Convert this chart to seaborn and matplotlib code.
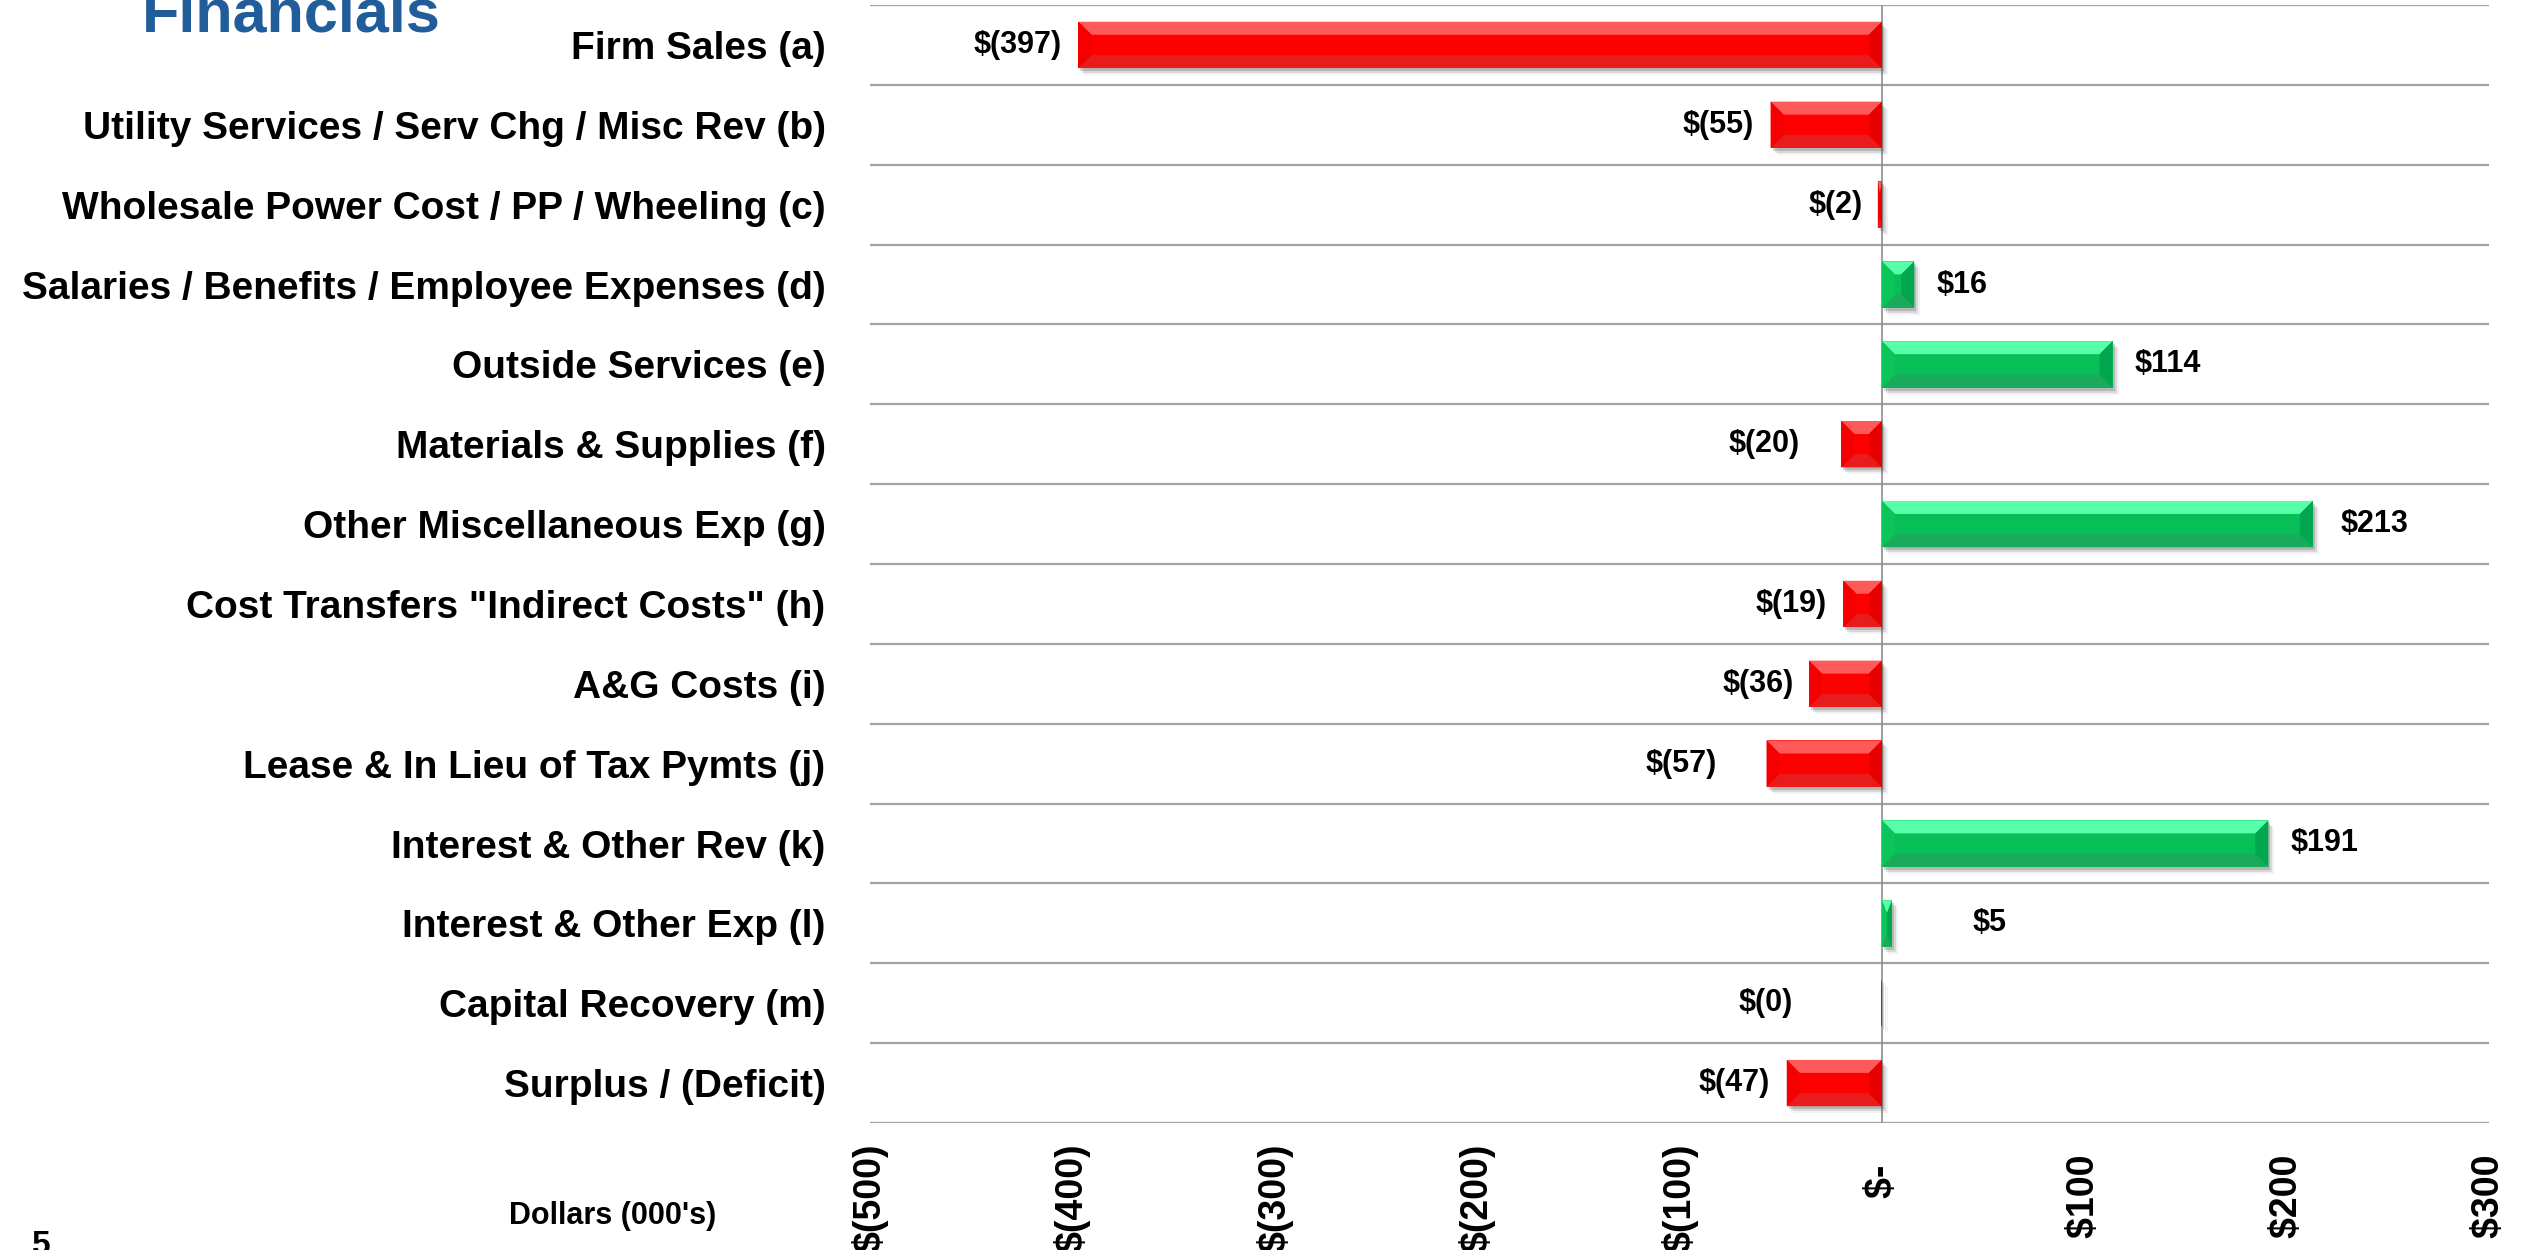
"""
Variance by line item (Dollars 000's) - horizontal bar chart with bevelled bars.
"""

import numpy as np
import pandas as pd
import matplotlib
matplotlib.use("Agg")
import matplotlib.pyplot as plt
import matplotlib.font_manager as fm
import matplotlib.transforms as mtransforms
from matplotlib.patches import Polygon, Rectangle
import seaborn as sns

# ---------------------------------------------------------------
# data
# ---------------------------------------------------------------
categories = [
    "Firm Sales (a)",
    "Utility Services / Serv Chg / Misc Rev (b)",
    "Wholesale Power Cost / PP / Wheeling (c)",
    "Salaries / Benefits / Employee Expenses (d)",
    "Outside Services (e)",
    "Materials & Supplies (f)",
    "Other Miscellaneous Exp (g)",
    'Cost Transfers "Indirect Costs" (h)',
    "A&G Costs (i)",
    "Lease & In Lieu of Tax Pymts (j)",
    "Interest & Other Rev (k)",
    "Interest & Other Exp (l)",
    "Capital Recovery (m)",
    "Surplus / (Deficit)",
]
values = [-397, -55, -2, 16, 114, -20, 213, -19, -36, -57, 191, 5, -0.3, -47]

x_ticks = [-500, -400, -300, -200, -100, 0, 100, 200, 300]
x_tick_labels = ["$(500)", "$(400)", "$(300)", "$(200)", "$(100)",
                 "$-  ", "$100 ", "$200 ", "$300 "]

# gap between bar end and its value label (points)
LABEL_PAD = [12, 12, 11, 16, 16, 30, 20, 12, 11, 36, 16, 58, 64, 12]

# ---------------------------------------------------------------
# style
# ---------------------------------------------------------------
sns.set_style("white")
names = {f.name for f in fm.fontManager.ttflist}
if "Liberation Sans Narrow" in names:
    NARROW = "Liberation Sans Narrow"
    CAT_FS, VAL_FS, SMALL_FS, TICK_FS = 35.5, 27, 26, 32
else:
    NARROW = "Liberation Sans"
    CAT_FS, VAL_FS, SMALL_FS, TICK_FS = 28, 22, 22, 27
plt.rcParams["font.family"] = [NARROW, "DejaVu Sans"]
plt.rcParams["text.color"] = "black"
plt.rcParams["xtick.color"] = "black"
plt.rcParams["ytick.color"] = "black"

RED = {"face": "#FE0000", "top": "#FF5A5A", "bottom": "#E81C1C",
       "left": "#F40000", "right": "#E60000"}
GREEN = {"face": "#07BF56", "top": "#57FFAA", "bottom": "#1AAA5B",
         "left": "#0BC45A", "right": "#00A74E"}

df = pd.DataFrame({"item": categories, "value": values})
df["sign"] = np.where(df["value"] < 0, "neg", "pos")

fig = plt.figure(figsize=(25.26, 12.5), dpi=100)
ax = fig.add_axes([870 / 2526, 1 - 1123 / 1250, 1619 / 2526, 1118 / 1250])

sns.barplot(data=df, x="value", y="item", hue="sign", orient="h",
            palette={"neg": RED["face"], "pos": GREEN["face"]},
            saturation=1, dodge=False, width=0.58, legend=False, linewidth=0,
            ax=ax, zorder=3)

ax.set_xlim(-500, 300)
ax.set_ylim(len(categories) - 0.5, -0.5)

# px -> data helpers for bevel size
px_x = 800 / 1619.0
px_y = 14 / 1118.0
bev_x = 13 * px_x
bev_y = 13 * px_y

shadow_tf = [mtransforms.offset_copy(ax.transData, fig=fig, x=dx, y=dy, units="dots")
             for dx, dy in [(2, -3), (4, -5), (6, -7)]]

for bar in list(ax.patches):
    w = bar.get_width()
    if abs(w) < 1e-9:
        continue
    x0 = min(bar.get_x(), bar.get_x() + w)
    x1 = max(bar.get_x(), bar.get_x() + w)
    yt = bar.get_y()
    yb = bar.get_y() + bar.get_height()
    if yt > yb:
        yt, yb = yb, yt
    pal = RED if w < 0 else GREEN
    bx = min(bev_x, (x1 - x0) / 2)
    by = bev_y

    # soft drop shadow
    for tf, a in zip(shadow_tf, [0.22, 0.14, 0.07]):
        ax.add_patch(Rectangle((x0, yt), x1 - x0, yb - yt, transform=tf,
                               facecolor="#404040", edgecolor="none",
                               alpha=a, zorder=2))

    polys = {
        "top": [(x0, yt), (x1, yt), (x1 - bx, yt + by), (x0 + bx, yt + by)],
        "bottom": [(x0, yb), (x1, yb), (x1 - bx, yb - by), (x0 + bx, yb - by)],
        "left": [(x0, yt), (x0 + bx, yt + by), (x0 + bx, yb - by), (x0, yb)],
        "right": [(x1, yt), (x1 - bx, yt + by), (x1 - bx, yb - by), (x1, yb)],
    }
    for side, pts in polys.items():
        ax.add_patch(Polygon(pts, closed=True, facecolor=pal[side],
                             edgecolor="none", zorder=4))

# value labels
for i, (v, pad) in enumerate(zip(values, LABEL_PAD)):
    if v < 0:
        txt = f"$({abs(round(v))})"
        ax.annotate(txt, xy=(v, i), xytext=(-pad, 0), textcoords="offset points",
                    ha="right", va="center", fontsize=VAL_FS, fontweight="bold",
                    color="black", zorder=5)
    else:
        txt = f"${round(v)}"
        ax.annotate(txt, xy=(v, i), xytext=(pad, 0), textcoords="offset points",
                    ha="left", va="center", fontsize=VAL_FS, fontweight="bold",
                    color="black", zorder=5)

# grid: lines between categories, zero line
ax.set_yticks(np.arange(-0.5, len(categories), 1), minor=True)
ax.grid(False)
ax.grid(axis="y", which="minor", color="#A3A3A3", linewidth=1.6, zorder=1)
ax.axvline(0, color="#8E8E8E", linewidth=1.2, zorder=1)
for s in ax.spines.values():
    s.set_visible(False)

ax.set_xticks(x_ticks)
ax.set_xticklabels(x_tick_labels, rotation=90, fontsize=TICK_FS, fontweight="bold")
ax.tick_params(axis="x", length=0, pad=15)
ax.tick_params(axis="y", which="both", length=0, pad=32, labelsize=CAT_FS)
for lab in ax.get_yticklabels():
    lab.set_fontweight("bold")
ax.set_xlabel("")
ax.set_ylabel("")

# page furniture
fig.text(142 / 2526, 1 - 31 / 1250, "Financials", ha="left", va="baseline",
         fontsize=44, fontweight="bold", color="#215D9B",
         family=["Liberation Sans", "DejaVu Sans"])
fig.text(613 / 2526, 1 - 1216 / 1250, "Dollars (000's)", ha="center", va="center",
         fontsize=SMALL_FS, fontweight="bold")
fig.text(32 / 2526, 1 - 1230 / 1250, "5", ha="left", va="top",
         fontsize=SMALL_FS + 2, fontweight="bold")

fig.savefig("out.png", dpi=100)
